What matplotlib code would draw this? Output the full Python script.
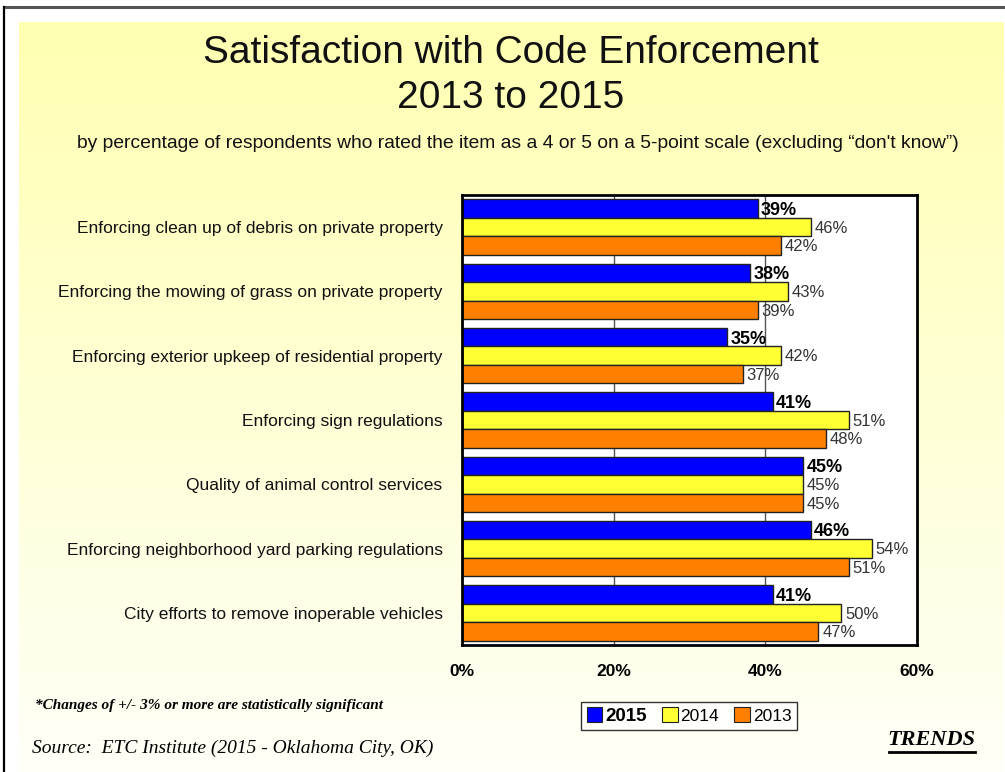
import numpy as np
import matplotlib
matplotlib.use("Agg")
import matplotlib.pyplot as plt
import matplotlib.patches as mpatches
from matplotlib.lines import Line2D

# ---- data ----
categories = [
    "Enforcing clean up of debris on private property",
    "Enforcing the mowing of grass on private property",
    "Enforcing exterior upkeep of residential property",
    "Enforcing sign regulations",
    "Quality of animal control services",
    "Enforcing neighborhood yard parking regulations",
    "City efforts to remove inoperable vehicles",
]
years = ["2015", "2014", "2013"]
values_2015 = [39, 38, 35, 41, 45, 46, 41]
values_2014 = [46, 43, 42, 51, 45, 54, 50]
values_2013 = [42, 39, 37, 48, 45, 51, 47]
x_ticks = [0, 20, 40, 60]
x_tick_labels = ["0%", "20%", "40%", "60%"]

colors = {"2015": "#0000FF", "2014": "#FFFF33", "2013": "#FF8000"}
series = {"2015": values_2015, "2014": values_2014, "2013": values_2013}

W, H = 1005, 772
fig = plt.figure(figsize=(W / 100, H / 100), dpi=100)
fig.patch.set_facecolor("white")
plt.rcParams["font.family"] = ["Liberation Sans", "DejaVu Sans"]

# ---- yellow gradient panel ----
bg = fig.add_axes([19 / W, 0, (1003 - 19) / W, (H - 22) / H], zorder=-5)
top = np.array([255, 255, 178]) / 255
bot = np.array([255, 255, 248]) / 255
t = np.linspace(0, 1, 256)[:, None]
grad = top[None, :] * (1 - t) + bot[None, :] * t
bg.imshow(grad[:, None, :], aspect="auto", extent=[0, 1, 0, 1])
bg.set_axis_off()

# frame lines at top and left
fig.add_artist(Line2D([4 / W, 1], [1 - 7 / H, 1 - 7 / H], color="#555555", lw=2.2,
                      transform=fig.transFigure))
fig.add_artist(Line2D([4 / W, 4 / W], [0, 1 - 7 / H], color="black", lw=1.6,
                      transform=fig.transFigure))

# ---- titles ----
fig.text(511 / W, 1 - 53 / H, "Satisfaction with Code Enforcement", ha="center", va="center",
         fontsize=28, color="#111111")
fig.text(511 / W, 1 - 98 / H, "2013 to 2015", ha="center", va="center",
         fontsize=28, color="#111111")
fig.text(518 / W, 1 - 143 / H,
         "by percentage of respondents who rated the item as a 4 or 5 on a 5-point scale (excluding \u201cdon't know\u201d)",
         ha="center", va="center", fontsize=13.9, color="#111111")

# ---- bar chart ----
ax = fig.add_axes([462 / W, 1 - 645 / H, (917 - 462) / W, (645 - 195) / H])
ax.set_facecolor("white")
n = len(categories)
pos = np.arange(n)
bh = 0.288
offsets = {"2015": -bh, "2014": 0.0, "2013": bh}

for x in [20, 40]:
    ax.axvline(x, color="#555555", lw=1.0, zorder=0)

for yr in years:
    vals = series[yr]
    ax.barh(pos + offsets[yr], vals, height=bh, color=colors[yr],
            edgecolor="#222222", linewidth=1.0, zorder=2)
    for p, v in zip(pos, vals):
        if yr == "2015":
            ax.text(v + 0.4, p + offsets[yr] + 0.03, f"{v}%", ha="left", va="center",
                    fontsize=13, fontweight="bold", color="black", zorder=3)
        else:
            ax.text(v + 0.5, p + offsets[yr] + 0.02, f"{v}%", ha="left", va="center",
                    fontsize=12, color="#333333", zorder=3)

ax.set_xlim(0, 60)
ax.set_ylim(n - 0.5, -0.5)
ax.set_xticks(x_ticks)
ax.set_xticklabels(x_tick_labels, fontsize=12.5, fontweight="bold")
ax.set_yticks(pos)
ax.set_yticklabels(categories, fontsize=12.5, color="#111111")
ax.tick_params(axis="x", length=0, pad=14)
ax.tick_params(axis="y", length=0, pad=14)
for s in ax.spines.values():
    s.set_linewidth(2.0)
    s.set_color("black")

# ---- legend ----
handles = [mpatches.Patch(facecolor=colors[y], edgecolor="#222222", linewidth=0.8) for y in years]
leg = fig.legend(handles, years, loc="center", bbox_to_anchor=(689 / W, 1 - 716 / H),
                 ncol=3, fontsize=12.5, frameon=True, fancybox=False, edgecolor="black",
                 handlelength=0.9, handleheight=0.9, handletextpad=0.15,
                 columnspacing=0.9, borderpad=0.3)
leg.get_frame().set_linewidth(1.0)
leg.get_frame().set_facecolor("white")
leg.get_texts()[0].set_fontweight("bold")
leg.get_texts()[0].set_fontsize(13.5)

# ---- notes ----
serif = ["Liberation Serif", "DejaVu Serif"]
fig.text(35 / W, 1 - 706 / H, "*Changes of +/- 3% or more are statistically significant",
         ha="left", va="center", fontsize=11, fontstyle="italic", fontweight="bold",
         family=serif)
fig.text(32 / W, 1 - 748 / H, "Source:  ETC Institute (2015 - Oklahoma City, OK)",
         ha="left", va="center", fontsize=14, fontstyle="italic", family=serif)
fig.text(975 / W, 1 - 740 / H, "TRENDS", ha="right", va="center", fontsize=16,
         fontstyle="italic", fontweight="bold", family=serif)
fig.add_artist(Line2D([889 / W, 975 / W], [1 - 752 / H, 1 - 752 / H], color="black",
                      lw=2.0, transform=fig.transFigure))

fig.savefig("out.png", dpi=100, facecolor=fig.get_facecolor())
